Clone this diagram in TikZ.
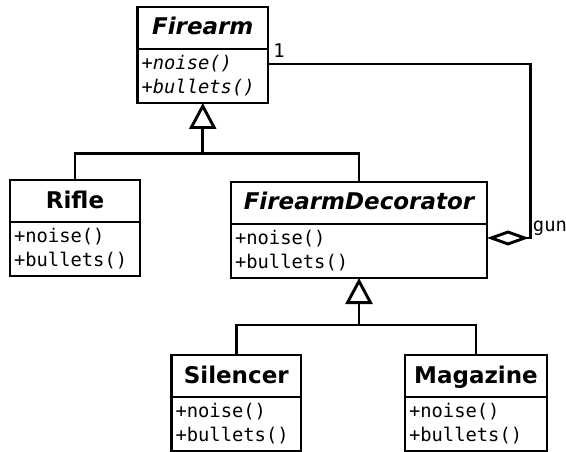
\documentclass[tikz,border=0pt]{standalone}
\usepackage{fontspec}
\setmainfont{DejaVu Sans}
\setmonofont{DejaVu Sans Mono}
\usetikzlibrary{positioning,arrows.meta}

\tikzset{
  classname/.style={draw, outer sep=0pt, minimum height=42pt, text height=17pt, text depth=3pt,
    font=\fontsize{23}{27}\selectfont\bfseries},
  classops/.style={draw, outer sep=0pt, minimum height=54pt, inner xsep=4pt, align=left,
    font=\ttfamily\fontsize{18.8}{24}\selectfont},
  rolename/.style={font=\ttfamily\fontsize{18.8}{24}\selectfont, inner sep=2pt},
  inherit/.style={-{Triangle[open,length=26pt,width=27pt]}},
  aggregate/.style={-{Diamond[open,length=42pt,width=15pt]}}
}

\begin{document}
\begin{tikzpicture}[x=1pt, y=-1pt, line width=2.9pt]
  \useasboundingbox (0,0) rectangle (566,452);
  % classes
  \node[classname, minimum width=130.5pt] (firearm) at (202.75,28) {\itshape Firearm};
  \node[classops, text width=122.5pt, below=0pt of firearm] (firearm-ops) {\itshape +noise()\\+bullets()};
  \node[classname, minimum width=130pt] (rifle) at (75,201) {Rifle};
  \node[classops, text width=122pt, below=0pt of rifle] (rifle-ops) {+noise()\\+bullets()};
  \node[classname, minimum width=256pt] (decorator) at (359,203) {\itshape FirearmDecorator};
  \node[classops, text width=248pt, below=0pt of decorator] (decorator-ops) {+noise()\\+bullets()};
  \node[classname, minimum width=129.5pt] (silencer) at (236.25,376) {Silencer};
  \node[classops, text width=121.5pt, below=0pt of silencer] (silencer-ops) {+noise()\\+bullets()};
  \node[classname, minimum width=142pt] (magazine) at (476,376) {Magazine};
  \node[classops, text width=134pt, below=0pt of magazine] (magazine-ops) {+noise()\\+bullets()};

  % generalisation
  \coordinate (join1) at (firearm-ops.south |- 0,153.5);
  \draw[inherit] (join1) -- (firearm-ops.south);
  \draw (rifle.north) |- (join1) -| (decorator.north);
  \coordinate (join2) at (decorator-ops.south |- 0,325);
  \draw[inherit] (join2) -- (decorator-ops.south);
  \draw (silencer.north) |- (join2) -| (magazine.north);

  % aggregation
  \draw[aggregate] ([yshift=12pt]firearm-ops.east) node[rolename, anchor=south west, inner xsep=4pt, inner ysep=5pt] {1}
    -- ++(262.5,0) |- node[rolename, pos=0.5, anchor=south west, inner sep=1pt] {gun}
    ([yshift=13pt]decorator-ops.east);
\end{tikzpicture}
\end{document}
